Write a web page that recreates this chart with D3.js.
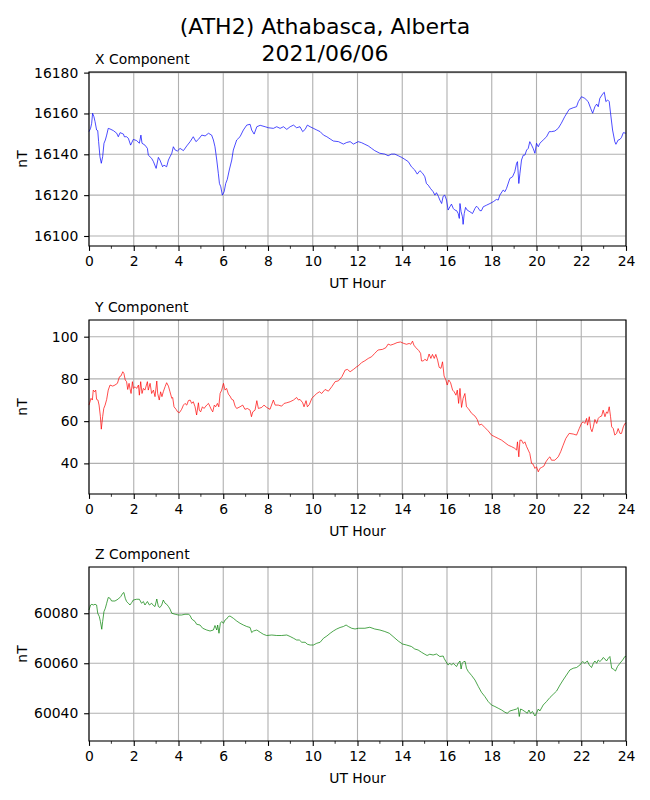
<!DOCTYPE html>
<html>
<head>
<meta charset="utf-8">
<script src="https://cdn.jsdelivr.net/npm/d3@7"></script>
<style>
  body { margin: 0; background: #fff; }
  svg { font-family: "DejaVu Sans", sans-serif; }
</style>
</head>
<body>
<svg width="650" height="800"></svg>
<script>
// values (UT hour, nT)
var xHours = [0.00,0.07,0.12,0.16,0.22,0.27,0.34,0.39,0.43,0.49,0.55,0.61,0.67,0.73,0.79,0.86,0.94,1.09,1.24,1.31,1.39,1.54,1.58,1.68,1.76,1.86,1.98,2.13,2.25,2.32,2.37,2.50,2.61,2.65,2.80,2.88,3.00,3.10,3.17,3.29,3.35,3.47,3.55,3.62,3.70,3.77,3.85,3.95,4.07,4.22,4.37,4.52,4.66,4.78,4.89,5.04,5.19,5.34,5.48,5.56,5.63,5.71,5.78,5.83,5.89,5.96,6.04,6.11,6.18,6.27,6.38,6.45,6.60,6.75,6.90,7.05,7.20,7.27,7.38,7.50,7.65,7.87,8.02,8.24,8.39,8.54,8.69,8.84,8.99,9.14,9.28,9.43,9.55,9.66,9.76,9.88,10.03,10.18,10.33,10.48,10.63,10.78,10.92,11.15,11.37,11.52,11.67,11.82,12.03,12.18,12.33,12.48,12.63,12.77,13.00,13.22,13.37,13.52,13.67,13.82,13.97,14.12,14.27,14.41,14.56,14.67,14.79,14.91,15.01,15.08,15.16,15.26,15.38,15.46,15.53,15.61,15.68,15.76,15.83,15.90,15.98,16.05,16.13,16.20,16.28,16.35,16.43,16.50,16.55,16.58,16.63,16.69,16.72,16.77,16.83,16.90,17.02,17.14,17.25,17.32,17.39,17.47,17.54,17.62,17.77,17.92,18.07,18.21,18.29,18.36,18.51,18.59,18.66,18.81,18.93,19.03,19.11,19.15,19.21,19.26,19.33,19.41,19.48,19.56,19.63,19.70,19.78,19.85,19.93,20.00,20.08,20.15,20.30,20.45,20.57,20.67,20.82,20.97,21.11,21.26,21.46,21.64,21.79,21.87,22.01,22.16,22.31,22.42,22.51,22.61,22.69,22.76,22.83,22.98,23.03,23.10,23.18,23.25,23.31,23.40,23.50,23.55,23.65,23.73,23.80,23.88,24.00];
var xValues = [16151.1,16152.7,16155.2,16160.1,16158.4,16156.0,16151.9,16151.6,16146.2,16138.8,16135.6,16138.8,16145.4,16147.0,16149.4,16152.7,16152.4,16151.6,16150.3,16148.6,16150.6,16149.9,16148.6,16148.6,16147.8,16144.5,16147.3,16146.7,16145.4,16149.4,16145.4,16144.5,16142.9,16139.6,16138.0,16136.4,16133.1,16138.5,16137.2,16133.9,16134.7,16133.9,16137.2,16138.8,16140.5,16143.7,16142.1,16141.6,16142.9,16141.8,16144.1,16146.2,16148.6,16146.2,16147.3,16149.4,16149.0,16150.3,16149.4,16147.0,16143.7,16137.2,16130.7,16125.7,16124.1,16120.0,16121.7,16125.7,16127.7,16132.3,16137.2,16142.1,16147.0,16148.6,16151.9,16154.3,16154.7,16151.9,16149.9,16153.5,16154.2,16153.5,16153.0,16152.7,16153.5,16152.7,16153.5,16152.2,16153.5,16154.3,16153.0,16153.5,16151.1,16152.2,16154.3,16153.5,16152.7,16151.9,16151.1,16149.4,16148.6,16147.5,16146.5,16146.2,16145.0,16145.8,16146.2,16145.0,16146.2,16145.7,16144.9,16144.1,16142.9,16141.8,16140.5,16140.1,16139.3,16140.1,16140.1,16139.3,16138.5,16137.5,16136.4,16133.9,16132.3,16130.3,16132.0,16130.7,16129.0,16125.7,16124.9,16123.3,16121.7,16120.0,16121.2,16119.5,16117.6,16115.9,16119.5,16120.0,16117.6,16112.7,16114.3,16115.6,16113.5,16112.7,16112.4,16111.0,16108.6,16115.9,16111.9,16109.4,16105.7,16111.0,16114.0,16112.7,16111.9,16111.0,16113.5,16114.6,16113.8,16112.4,16112.4,16114.3,16115.1,16115.9,16116.8,16117.9,16117.6,16120.0,16122.5,16121.7,16123.3,16128.2,16129.0,16131.5,16135.6,16136.4,16125.7,16130.7,16137.2,16139.6,16139.6,16142.1,16142.9,16146.2,16144.5,16142.9,16140.5,16145.4,16143.7,16145.4,16147.0,16148.6,16151.1,16151.1,16151.4,16152.7,16155.2,16158.4,16162.0,16162.8,16163.3,16165.8,16168.2,16167.4,16165.8,16162.5,16160.1,16163.3,16164.6,16163.3,16167.4,16169.9,16170.4,16165.8,16166.6,16165.8,16160.1,16151.9,16146.2,16144.9,16147.0,16147.3,16148.3,16150.6,16150.3];

var yHours = [0.00,0.09,0.15,0.19,0.25,0.30,0.34,0.40,0.45,0.51,0.55,0.61,0.66,0.72,0.79,0.86,0.94,1.06,1.16,1.27,1.36,1.43,1.51,1.56,1.62,1.68,1.73,1.79,1.83,1.88,1.94,1.98,2.06,2.13,2.21,2.25,2.31,2.37,2.43,2.50,2.61,2.65,2.73,2.80,2.88,2.95,3.03,3.07,3.14,3.20,3.26,3.32,3.40,3.47,3.55,3.62,3.70,3.74,3.80,3.89,3.96,4.04,4.14,4.22,4.29,4.37,4.44,4.52,4.59,4.66,4.74,4.81,4.89,4.93,4.99,5.07,5.14,5.26,5.34,5.41,5.48,5.53,5.60,5.66,5.74,5.80,5.86,5.93,6.01,6.08,6.15,6.23,6.30,6.38,6.45,6.53,6.60,6.75,6.87,6.97,7.08,7.20,7.26,7.32,7.42,7.50,7.57,7.72,7.82,7.94,8.09,8.24,8.32,8.46,8.61,8.72,8.84,8.99,9.14,9.28,9.36,9.43,9.55,9.61,9.70,9.76,9.85,9.96,10.06,10.18,10.30,10.40,10.55,10.70,10.85,11.00,11.15,11.30,11.45,11.55,11.67,11.82,11.97,12.03,12.18,12.33,12.48,12.63,12.77,12.92,13.12,13.27,13.37,13.48,13.62,13.77,13.92,14.07,14.19,14.31,14.38,14.46,14.52,14.61,14.74,14.82,14.86,14.94,15.01,15.11,15.20,15.28,15.35,15.43,15.50,15.58,15.65,15.73,15.80,15.87,15.95,16.01,16.08,16.16,16.25,16.32,16.40,16.46,16.52,16.58,16.65,16.72,16.80,16.87,16.95,17.10,17.25,17.35,17.44,17.54,17.69,17.84,17.99,18.14,18.29,18.44,18.59,18.74,18.89,19.03,19.11,19.15,19.21,19.26,19.33,19.41,19.48,19.56,19.63,19.70,19.78,19.85,19.93,20.00,20.08,20.15,20.23,20.33,20.42,20.52,20.60,20.67,20.82,20.97,21.08,21.19,21.31,21.46,21.64,21.79,21.91,22.01,22.09,22.16,22.24,22.28,22.36,22.42,22.48,22.54,22.61,22.69,22.76,22.83,22.91,22.98,23.06,23.13,23.18,23.25,23.31,23.36,23.43,23.50,23.58,23.65,23.73,23.80,23.88,23.95,24.00];
var yValues = [67.6,70.8,70.0,74.7,73.9,74.7,70.3,70.0,67.6,62.1,56.2,62.1,66.0,67.6,70.3,74.7,77.1,76.6,77.1,77.9,81.0,81.4,83.4,82.6,79.5,78.7,75.0,77.9,75.5,73.1,78.7,75.5,76.3,75.5,77.1,72.3,78.7,73.1,75.5,74.7,78.7,74.7,77.9,73.1,74.7,71.6,79.0,73.1,70.0,73.9,71.6,73.9,76.3,78.2,76.6,73.9,70.8,71.2,66.8,65.6,64.4,64.0,65.6,67.6,68.4,67.6,69.7,70.0,68.4,69.2,66.8,62.9,68.7,65.2,64.4,66.8,66.0,67.6,68.4,66.8,65.2,64.4,67.6,66.8,68.4,66.8,73.1,74.7,77.9,74.7,75.5,72.8,71.9,70.3,70.0,67.1,66.0,66.8,67.6,65.6,66.0,65.2,62.1,64.4,65.2,69.7,66.0,66.5,67.6,66.5,65.6,70.0,67.6,67.6,67.1,68.4,68.7,69.2,70.0,71.2,70.0,70.3,68.7,66.8,69.7,66.8,67.9,70.8,71.9,73.1,73.9,73.1,75.0,74.2,76.3,78.7,79.1,81.0,84.2,84.5,83.4,84.5,85.8,86.1,87.7,88.6,89.7,90.5,92.1,93.7,94.0,94.8,96.5,96.0,96.5,97.2,97.5,96.8,96.4,96.8,96.4,97.9,96.0,94.8,93.4,92.1,88.5,88.5,89.3,88.6,91.8,89.7,91.6,89.7,91.6,88.9,85.5,85.0,88.1,81.4,79.5,77.1,79.5,78.2,74.7,73.9,72.3,74.7,68.4,75.5,66.5,70.8,73.1,66.8,66.0,63.7,62.4,60.8,58.1,58.6,57.0,55.4,53.4,52.6,51.8,51.0,49.8,48.6,47.9,47.1,46.3,50.2,43.1,51.0,51.0,49.4,50.2,47.9,46.3,44.7,40.0,39.6,37.6,38.4,36.0,37.6,38.1,38.7,40.7,42.3,43.1,41.5,41.5,43.1,45.5,48.6,51.8,54.2,53.9,53.4,56.5,58.9,59.7,58.9,61.3,58.1,62.1,56.5,55.0,57.3,60.8,58.9,61.3,62.1,62.4,65.2,62.1,64.4,63.7,66.8,62.1,57.3,56.5,53.4,54.2,56.5,54.2,54.2,57.3,58.9,59.0];

var zHours = [0.00,0.07,0.13,0.19,0.27,0.34,0.39,0.46,0.51,0.57,0.61,0.67,0.73,0.79,0.86,0.94,1.01,1.16,1.31,1.42,1.51,1.56,1.62,1.68,1.76,1.83,1.91,1.98,2.13,2.25,2.35,2.43,2.50,2.61,2.70,2.80,2.88,2.95,3.03,3.10,3.17,3.25,3.32,3.40,3.47,3.55,3.62,3.70,3.85,4.00,4.14,4.29,4.44,4.52,4.59,4.74,4.81,4.96,5.08,5.26,5.41,5.56,5.63,5.71,5.75,5.81,5.87,5.93,6.01,6.08,6.15,6.23,6.30,6.45,6.60,6.75,6.90,7.05,7.20,7.27,7.35,7.50,7.65,7.79,7.94,8.17,8.39,8.61,8.84,8.99,9.14,9.28,9.40,9.51,9.66,9.76,9.88,10.03,10.18,10.33,10.48,10.63,10.78,10.92,11.07,11.22,11.37,11.49,11.59,11.74,11.89,12.04,12.33,12.55,12.77,13.00,13.22,13.42,13.59,13.82,14.01,14.19,14.41,14.56,14.71,14.86,15.01,15.11,15.23,15.38,15.53,15.68,15.83,15.87,15.95,16.05,16.13,16.20,16.28,16.35,16.43,16.50,16.58,16.63,16.68,16.75,16.81,16.87,16.95,17.10,17.25,17.40,17.54,17.69,17.84,17.99,18.14,18.29,18.44,18.59,18.69,18.81,18.96,19.11,19.18,19.23,19.29,19.38,19.48,19.59,19.66,19.73,19.82,19.93,20.00,20.08,20.15,20.30,20.45,20.60,20.75,20.90,21.05,21.19,21.34,21.49,21.64,21.79,21.94,22.06,22.16,22.27,22.36,22.46,22.54,22.61,22.69,22.76,22.83,22.91,22.98,23.06,23.13,23.21,23.28,23.36,23.43,23.53,23.62,23.73,23.85,23.95,24.00];
var zValues = [60081.3,60083.3,60083.6,60083.3,60083.6,60083.3,60080.0,60078.7,60076.7,60073.6,60076.7,60080.7,60082.0,60084.0,60086.3,60086.0,60084.9,60084.9,60085.7,60086.7,60088.0,60088.3,60086.0,60084.7,60084.0,60083.3,60084.3,60085.3,60085.6,60085.6,60084.0,60084.7,60083.3,60084.7,60083.3,60084.0,60083.1,60082.7,60085.7,60082.7,60082.3,60083.3,60085.3,60084.0,60083.6,60082.7,60081.7,60080.0,60079.6,60079.3,60079.3,60079.6,60079.6,60079.1,60077.7,60076.7,60075.6,60075.3,60074.0,60073.3,60072.9,60073.3,60075.1,60073.3,60075.3,60072.0,60076.0,60076.7,60076.0,60077.3,60077.7,60078.7,60078.9,60078.0,60076.9,60076.0,60075.3,60074.7,60074.3,60072.3,60072.9,60073.3,60072.4,60071.6,60071.1,60071.3,60071.1,60071.1,60071.3,60070.7,60070.0,60069.3,60069.3,60068.4,60068.4,60067.6,60067.3,60067.3,60068.0,60068.4,60070.0,60070.9,60072.0,60072.9,60073.7,60074.3,60074.7,60075.3,60074.7,60074.0,60073.7,60074.0,60074.0,60074.4,60073.7,60073.3,60072.7,60072.0,60070.7,60068.9,60067.7,60067.3,60066.7,60065.7,60065.3,60064.4,60063.6,60063.1,60063.6,60063.3,60063.7,60062.7,60062.9,60062.0,60060.7,60059.3,60060.0,60059.3,60060.0,60059.3,60058.7,60060.0,60060.9,60057.7,60060.0,60060.7,60060.7,60058.0,60056.7,60055.1,60053.3,60050.7,60048.4,60046.7,60044.7,60043.3,60042.7,60042.0,60041.3,60040.4,60040.0,60040.9,60041.3,60041.7,60042.3,60038.7,60041.7,60041.3,60040.7,60040.0,60041.3,60040.0,60040.7,60038.9,60040.0,60041.7,60040.9,60043.3,60044.7,60046.3,60047.6,60048.9,60051.3,60053.3,60055.3,60057.3,60058.0,60058.3,60059.3,60060.7,60060.0,60060.9,60059.3,60058.3,60060.0,60060.9,60060.0,60061.3,60060.7,60061.3,60062.3,60061.7,60060.9,60062.0,60062.7,60058.0,60057.7,60056.9,60058.7,60060.0,60061.3,60062.7,60062.7];

var hourTicks = [0, 2, 4, 6, 8, 10, 12, 14, 16, 18, 20, 22, 24];
var hourMinorTicks = [1, 3, 5, 7, 9, 11, 13, 15, 17, 19, 21, 23];
var xTicks = [16100, 16120, 16140, 16160, 16180];
var yTicks = [40, 60, 80, 100];
var zTicks = [60040, 60060, 60080];

var titleLines = ["(ATH2) Athabasca, Alberta", "2021/06/06"];

var panels = [
  {name: "X Component", hours: xHours, values: xValues, ticks: xTicks, domain: [16095.1, 16180.3], color: "#0000ff", top: 72},
  {name: "Y Component", hours: yHours, values: yValues, ticks: yTicks, domain: [25.5, 107.9], color: "#ff0000", top: 320},
  {name: "Z Component", hours: zHours, values: zValues, ticks: zTicks, domain: [60028.9, 60098.5], color: "#008000", top: 567}
];

var left = 89, right = 626, panelHeight = 174;
var svg = d3.select("svg");

svg.selectAll("text.title")
  .data(titleLines)
  .enter()
  .append("text")
  .attr("x", 325)
  .attr("y", function(d, i){ return 34 + i * 27; })
  .attr("text-anchor", "middle")
  .attr("font-size", "22px")
  .attr("fill", "#000")
  .text(function(d){ return d; });

var xScale = d3.scaleLinear().domain([0, 24]).range([left, right]);

panels.forEach(function(p) {
  var yScale = d3.scaleLinear().domain(p.domain).range([p.top + panelHeight, p.top]);
  var g = svg.append("g");

  // grid
  g.selectAll("line.vgrid")
    .data(hourTicks)
    .enter()
    .append("line")
    .attr("x1", function(d){ return xScale(d); })
    .attr("x2", function(d){ return xScale(d); })
    .attr("y1", p.top)
    .attr("y2", p.top + panelHeight)
    .attr("stroke", "#b0b0b0")
    .attr("stroke-width", 1.1);
  g.selectAll("line.hgrid")
    .data(p.ticks)
    .enter()
    .append("line")
    .attr("x1", left)
    .attr("x2", right)
    .attr("y1", function(d){ return yScale(d); })
    .attr("y2", function(d){ return yScale(d); })
    .attr("stroke", "#b0b0b0")
    .attr("stroke-width", 1.1);

  // trace
  var pts = p.hours.map(function(h, i){ return [h, p.values[i]]; });
  var line = d3.line()
    .x(function(d){ return xScale(d[0]); })
    .y(function(d){ return yScale(d[1]); });
  g.append("path")
    .datum(pts)
    .attr("d", line)
    .attr("fill", "none")
    .attr("stroke", p.color)
    .attr("stroke-width", 0.7)
    .attr("stroke-linejoin", "round");

  // frame
  g.append("rect")
    .attr("x", left)
    .attr("y", p.top)
    .attr("width", right - left)
    .attr("height", panelHeight)
    .attr("fill", "none")
    .attr("stroke", "#000")
    .attr("stroke-width", 1.1);

  // axes
  var xAxis = d3.axisBottom(xScale)
    .tickValues(hourTicks)
    .tickFormat(d3.format("d"))
    .tickSize(4.9)
    .tickPadding(5.3);
  var ax = g.append("g")
    .attr("transform", "translate(0," + (p.top + panelHeight) + ")")
    .call(xAxis);
  ax.append("g").selectAll("line")
    .data(hourMinorTicks)
    .enter()
    .append("line")
    .attr("x1", function(d){ return xScale(d); })
    .attr("x2", function(d){ return xScale(d); })
    .attr("y1", 0)
    .attr("y2", 2.8)
    .attr("stroke", "#000")
    .attr("stroke-width", 0.8);

  var yAxis = d3.axisLeft(yScale)
    .tickValues(p.ticks)
    .tickFormat(d3.format("d"))
    .tickSize(4.9)
    .tickPadding(5.8);
  var ay = g.append("g")
    .attr("transform", "translate(" + left + ",0)")
    .call(yAxis);

  [ax, ay].forEach(function(a) {
    a.select(".domain").remove();
    a.selectAll(".tick line").attr("stroke", "#000").attr("stroke-width", 1.1);
    a.selectAll("text")
      .attr("font-family", "DejaVu Sans, sans-serif")
      .attr("font-size", "13.9px")
      .attr("fill", "#000");
  });

  // labels
  g.append("text")
    .attr("x", 95)
    .attr("y", p.top - 8.5)
    .attr("font-size", "13.9px")
    .text(p.name);
  g.append("text")
    .attr("x", (left + right) / 2)
    .attr("y", p.top + panelHeight + 42)
    .attr("text-anchor", "middle")
    .attr("font-size", "13.9px")
    .text("UT Hour");
  g.append("text")
    .attr("transform", "translate(27," + (p.top + panelHeight / 2) + ") rotate(-90)")
    .attr("text-anchor", "middle")
    .attr("font-size", "13.9px")
    .text("nT");
});
</script>
</body>
</html>
